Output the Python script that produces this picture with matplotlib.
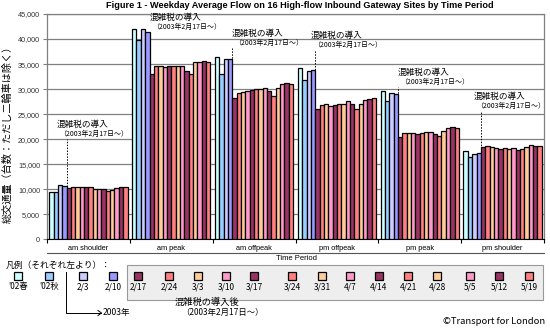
import numpy as np
import matplotlib.pyplot as plt
from matplotlib.patches import Rectangle
from matplotlib.lines import Line2D
from matplotlib.ticker import FuncFormatter

plt.rcParams['font.family'] = ['Noto Sans CJK JP', 'DejaVu Sans']
LAT = ['Liberation Sans', 'DejaVu Sans']

periods = ['am shoulder', 'am peak', 'am offpeak', 'pm offpeak', 'pm peak', 'pm shoulder']
weeks = ["'02春", "'02秋", '2/3', '2/10', '2/17', '2/24', '3/3', '3/10', '3/17',
         '3/24', '3/31', '4/7', '4/14', '4/21', '4/28', '5/5', '5/12', '5/19']

# flow per survey week, one list per time period
am_shoulder = [9500, 9500, 10900, 10700, 10200, 10400, 10400, 10400, 10500,
               10500, 10100, 10100, 10000, 9600, 9800, 10200, 10500, 10400]
am_peak = [42000, 39800, 42100, 41500, 33000, 34700, 34700, 34500, 34700,
           34700, 34700, 34700, 33600, 33100, 35400, 35500, 35700, 35500]
am_offpeak = [36400, 33100, 36000, 36000, 28300, 29300, 29500, 29700, 29900,
              30000, 30100, 30200, 29700, 28700, 30300, 31000, 31200, 31000]
pm_offpeak = [34200, 31900, 33600, 33900, 26000, 26800, 27000, 26700, 26800,
              27000, 27000, 27700, 27000, 26000, 27100, 27900, 28100, 28200]
pm_peak = [29700, 27700, 29300, 29100, 20500, 21300, 21300, 21300, 21100,
           21300, 21500, 21500, 21000, 20700, 21700, 22200, 22400, 22300]
pm_shoulder = [17700, 16500, 17100, 17300, 18500, 18700, 18400, 18300, 18100,
               18200, 18100, 18200, 17900, 18000, 18500, 18900, 18700, 18700]

flows = np.array([am_shoulder, am_peak, am_offpeak, pm_offpeak, pm_peak, pm_shoulder])

maroon, salmon, peach, pink = '#993366', '#FF8080', '#FFCC99', '#FF99CC'
colors = ['#CCFFFF', '#99CCFF', '#CCCCFF', '#9999FF'] + [maroon, salmon, peach, pink] * 3 + [maroon, salmon]

W, H = 550, 330
def fx(px):
    return px / W
def fy(py):
    return 1 - py / H

fig = plt.figure(figsize=(5.5, 3.3), dpi=100)
ax = fig.add_axes([fx(47), fy(239.3), fx(544) - fx(47), fy(14) - fy(239.3)])

n = len(weeks)
span = 0.944
w = span / n
x = np.arange(len(periods))
for i in range(n):
    ax.bar(x - span / 2 + (i + 0.5) * w, flows[:, i], width=w, color=colors[i],
           edgecolor='black', linewidth=0.9, zorder=3)

ax.set_xlim(-0.5, len(periods) - 0.5)
ax.set_ylim(0, 45000)
ax.set_yticks(np.arange(0, 45001, 5000))
ax.yaxis.set_major_formatter(FuncFormatter(lambda v, p: f'{int(v):,}'))
ax.yaxis.grid(True, color='#808080', linewidth=0.9)
ax.set_axisbelow(True)
ax.tick_params(axis='y', direction='out', length=3, width=0.8, color='#808080',
               labelsize=5.2, labelcolor='#333333', pad=2)
for lab in ax.get_yticklabels():
    lab.set_fontfamily(LAT)

ax.set_xticks(np.arange(-0.5, len(periods)), minor=False)
ax.set_xticklabels([])
ax.set_xticks(x, minor=True)
ax.set_xticklabels(periods, minor=True, fontsize=5.3, family=LAT)
ax.tick_params(axis='x', which='major', direction='out', length=3, width=0.8)
ax.tick_params(axis='x', which='minor', length=0, pad=4)

for side in ['left', 'right', 'top']:
    ax.spines[side].set_color('#808080')
    ax.spines[side].set_linewidth(0.9)
ax.spines['bottom'].set_color('black')

# congestion charge start markers
mark_y = [23000, 44400, 41200, 40800, 33400, 28600]
mark_dx = [-0.12, 0.0, -0.01, -0.05, -0.01, -0.09]
for g in range(len(periods)):
    lx = g - span / 2 + 4 * w
    ax.text(lx + mark_dx[g], mark_y[g], '混雑税の導入', fontsize=6.2, ha='left', va='center', zorder=4)
    ax.text(lx + mark_dx[g] + 0.03, mark_y[g] - 1900, '（2003年2月17日～）', fontsize=5, ha='left',
            va='center', zorder=4)
    ax.plot([lx, lx], [0, mark_y[g] - 3000], linestyle=(0, (1.5, 1.5)), color='black',
            linewidth=0.7, zorder=2)

fig.text(0.545, fy(6), 'Figure 1 - Weekday Average Flow on 16 High-flow Inbound Gateway Sites by Time Period',
         ha='center', va='center', fontsize=6.6, fontweight='bold', family=LAT)
fig.text(fx(8), fy(132), '総交通量（台数：ただし二輪車は除く）', rotation=90, ha='center', va='center',
         fontsize=7.3)
fig.add_artist(Line2D([fx(47), fx(544)], [fy(252.5)] * 2, color='#555555', linewidth=0.8))
fig.text(fx(296), fy(259), 'Time Period', ha='center', va='center', fontsize=5.5, family=LAT)

# legend
fig.text(fx(6), fy(265), '凡例（それぞれ左より）：', ha='left', va='center', fontsize=6.3)
fig.add_artist(Rectangle((fx(127), fy(300)), fx(543) - fx(127), fy(265) - fy(300),
                         facecolor='#EEEEEE', edgecolor='#999999', linewidth=0.8))
box_x = [18, 49, 83, 113, 138, 169, 198, 226, 254, 292, 322, 350, 379, 408, 437, 470, 499, 529]
for bx, lab, c in zip(box_x, weeks, colors):
    fig.add_artist(Rectangle((fx(bx - 4), fy(280)), fx(8), fy(272) - fy(280),
                             facecolor=c, edgecolor='black', linewidth=0.9))
    fig.text(fx(bx), fy(287), lab, ha='center', va='center', fontsize=6)

fig.text(fx(175), fy(302), '混雑税の導入後', ha='left', va='center', fontsize=6.7)
fig.text(fx(181), fy(312), '（2003年2月17日～）', ha='left', va='center', fontsize=6)

fig.add_artist(Line2D([fx(66), fx(66), fx(101)], [fy(272), fy(313), fy(313)], color='black', linewidth=0.7))
fig.add_artist(Line2D([fx(98), fx(101.5), fx(98)], [fy(310.5), fy(313), fy(315.5)], color='black', linewidth=0.7))
fig.text(fx(103), fy(313), '2003年', ha='left', va='center', fontsize=6.2)

fig.text(fx(545), fy(321), '©Transport for London', ha='right', va='center', fontsize=6.8)

fig.savefig('out.png', dpi=100)
